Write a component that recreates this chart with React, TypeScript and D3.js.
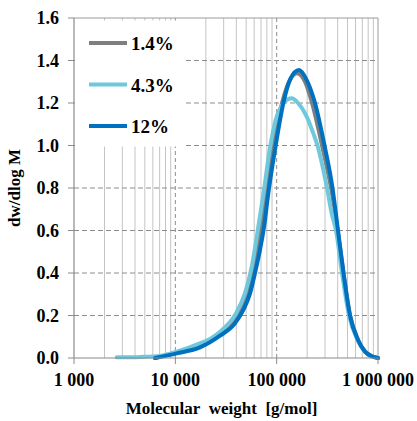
import React from "react";
import * as d3 from "d3";

// Molecular weight (g/mol) and dw/dlogM for each sample
const mw14 = [6300, 10300, 17500, 27600, 38800, 48700, 56800, 63600, 69260, 81200, 93500, 110400, 132400, 158800, 190400, 223400, 280300, 343900, 400400, 456600, 529500, 635300, 745000, 873000, 1000000];
const dw14 = [0.0, 0.025, 0.058, 0.113, 0.18, 0.27, 0.36, 0.47, 0.6, 0.8, 1.0, 1.18, 1.3, 1.34, 1.3, 1.2, 1.0, 0.8, 0.6, 0.4, 0.2, 0.085, 0.03, 0.008, 0.0];

const mw43 = [2640, 4480, 7060, 10300, 17500, 22000, 27600, 38800, 48700, 56800, 63600, 73900, 86000, 97800, 117200, 140700, 162400, 197900, 229900, 252900, 288600, 313900, 349300, 385100, 441400, 517500, 620800, 736500, 873000, 1000000];
const dw43 = [0.003, 0.005, 0.01, 0.03, 0.069, 0.09, 0.124, 0.202, 0.305, 0.43, 0.57, 0.77, 0.99, 1.12, 1.2, 1.222, 1.2, 1.136, 1.057, 1.0, 0.885, 0.8, 0.68, 0.6, 0.4, 0.2, 0.09, 0.032, 0.008, 0.0];

const mw12 = [6300, 10300, 17500, 27600, 38800, 46900, 54600, 61100, 68500, 76800, 80900, 97800, 116400, 135600, 166000, 197900, 238900, 296500, 355600, 402900, 456600, 529500, 635300, 745000, 873000, 1000000];
const dw12 = [0.0, 0.022, 0.05, 0.105, 0.163, 0.226, 0.304, 0.4, 0.51, 0.65, 0.74, 1.0, 1.2, 1.31, 1.355, 1.308, 1.2, 1.0, 0.8, 0.6, 0.4, 0.2, 0.085, 0.03, 0.008, 0.0];

const seriesNames = ["1.4%", "4.3%", "12%"];
const seriesColors = ["#7f7f7f", "#70c8dc", "#0070c0"];

const xTicks = [1000, 10000, 100000, 1000000];
const xTickLabels = ["1 000", "10 000", "100 000", "1 000 000"];
const yTicks = [0, 0.2, 0.4, 0.6, 0.8, 1.0, 1.2, 1.4, 1.6];

const X0 = 74, X1 = 378, Y0 = 358, Y1 = 18;
const FONT = "'Liberation Serif', 'Times New Roman', serif";

export default function App() {
  const x = d3.scaleLog().domain([1000, 1000000]).range([X0, X1]);
  const y = d3.scaleLinear().domain([0, 1.6]).range([Y0, Y1]);
  const line = d3
    .line<[number, number]>()
    .x((d) => x(d[0]))
    .y((d) => y(d[1]))
    .curve(d3.curveMonotoneX);

  const series = [
    { m: mw14, v: dw14 },
    { m: mw43, v: dw43 },
    { m: mw12, v: dw12 },
  ];

  const minor: number[] = [];
  for (let e = 3; e < 6; e++) {
    for (let k = 2; k <= 9; k++) minor.push(k * Math.pow(10, e));
  }

  return (
    <svg width={417} height={421} style={{ position: "absolute", left: 0, top: 0 }} fontFamily={FONT}>
      <rect x={0} y={0} width={417} height={421} fill="#fff" />
      {/* minor vertical grid */}
      {minor.map((m) => (
        <line key={"mn" + m} x1={x(m)} x2={x(m)} y1={Y1} y2={Y0} stroke="#c4c4c4" strokeWidth={1} />
      ))}
      {/* major vertical grid */}
      {xTicks.slice(1, 3).map((m) => (
        <line key={"mj" + m} x1={x(m)} x2={x(m)} y1={Y1} y2={Y0} stroke="#8c8c8c" strokeWidth={1} strokeDasharray="4,3" />
      ))}
      {/* horizontal grid */}
      {yTicks.slice(1, 8).map((t) => (
        <line key={"h" + t} x1={X0} x2={X1} y1={y(t)} y2={y(t)} stroke="#8c8c8c" strokeWidth={1} strokeDasharray="5,3" />
      ))}
      {/* plot border */}
      <line x1={X0} x2={X1} y1={Y1} y2={Y1} stroke="#9a9a9a" strokeWidth={1} />
      <line x1={X1} x2={X1} y1={Y1} y2={Y0} stroke="#9a9a9a" strokeWidth={1} />
      {/* legend box */}
      <rect x={75} y={20.5} width={109} height={126} fill="#fff" />
      {/* curves */}
      {series.map((s, i) => (
        <path
          key={"s" + i}
          d={line(s.m.map((m, j) => [m, s.v[j]] as [number, number])) || ""}
          fill="none"
          stroke={seriesColors[i]}
          strokeWidth={4}
          strokeLinejoin="round"
          strokeLinecap="round"
        />
      ))}
      {/* axes */}
      <line x1={X0} x2={X0} y1={Y1} y2={Y0} stroke="#8a8a8a" strokeWidth={1.2} />
      <line x1={X0} x2={X1} y1={Y0} y2={Y0} stroke="#8a8a8a" strokeWidth={1.2} />
      {yTicks.map((t) => (
        <g key={"yt" + t}>
          <line x1={X0 - 6} x2={X0} y1={y(t)} y2={y(t)} stroke="#8a8a8a" strokeWidth={1} />
          <text x={59} y={y(t) + 6} textAnchor="end" fontSize={18} fontWeight="bold">
            {t.toFixed(1)}
          </text>
        </g>
      ))}
      {xTicks.map((m, i) => (
        <g key={"xt" + m}>
          <line x1={x(m)} x2={x(m)} y1={Y0} y2={Y0 + 6} stroke="#8a8a8a" strokeWidth={1} />
          <text x={x(m)} y={386} textAnchor="middle" fontSize={18} fontWeight="bold">
            {xTickLabels[i]}
          </text>
        </g>
      ))}
      <text x={221.5} y={414} textAnchor="middle" fontSize={17} fontWeight="bold">
        Molecular{"\u00a0 "}weight {"\u00a0"}[g/mol]
      </text>
      <text transform="translate(20,188) rotate(-90)" textAnchor="middle" fontSize={17} fontWeight="bold">
        dw/dlog M
      </text>
      {/* legend */}
      {seriesNames.map((n, i) => {
        const ly = 43 + i * 41.5;
        return (
          <g key={"lg" + i}>
            <line x1={89} x2={127} y1={ly} y2={ly} stroke={seriesColors[i]} strokeWidth={4} />
            <text x={131} y={ly + 7} fontSize={19} fontWeight="bold">
              {n}
            </text>
          </g>
        );
      })}
    </svg>
  );
}
